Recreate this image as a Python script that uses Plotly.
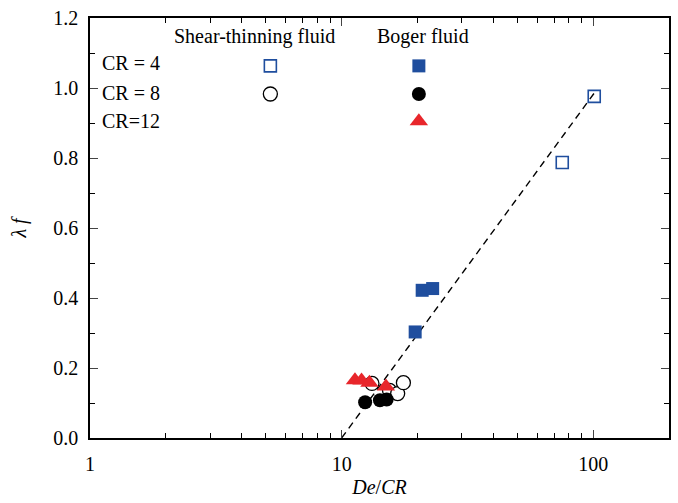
import plotly.graph_objects as go
import numpy as np

# Data
st_cr4_x = [100.9, 75.3]
st_cr4_y = [0.976, 0.787]
st_cr8_x = [13.2, 15.5, 16.7, 17.6]
st_cr8_y = [0.156, 0.136, 0.127, 0.158]
bg_cr4_x = [19.6, 20.9, 23.0]
bg_cr4_y = [0.303, 0.422, 0.427]
bg_cr8_x = [12.4, 14.2, 15.1]
bg_cr8_y = [0.102, 0.108, 0.110]
bg_cr12_x = [11.3, 12.0, 12.9, 15.0]
bg_cr12_y = [0.165, 0.164, 0.158, 0.147]
fit_x = [10, 102]
fit_y = [0.0, 0.99]

x_major = [1, 10, 100]
x_minor = [2, 3, 4, 5, 6, 7, 8, 9, 20, 30, 40, 50, 60, 70, 80, 90, 200]
y_major = [0.0, 0.2, 0.4, 0.6, 0.8, 1.0, 1.2]

BLUE = "#1f4e9e"
RED = "#e8262b"
FONT = "'Liberation Serif', 'Times New Roman', 'DejaVu Serif', serif"
FS = 20

fig = go.Figure()
fig.add_trace(go.Scatter(x=fit_x, y=fit_y, mode="lines",
                         line=dict(color="black", width=1.4, dash="7px,5px")))
fig.add_trace(go.Scatter(x=st_cr4_x, y=st_cr4_y, mode="markers",
                         marker=dict(symbol="square-open", size=12, color=BLUE, opacity=1, line=dict(width=1.6))))
fig.add_trace(go.Scatter(x=st_cr8_x, y=st_cr8_y, mode="markers",
                         marker=dict(symbol="circle", size=14, color="white", opacity=1, line=dict(color="black", width=1.3))))
fig.add_trace(go.Scatter(x=bg_cr8_x, y=bg_cr8_y, mode="markers",
                         marker=dict(symbol="circle", size=14, color="black", opacity=1, line=dict(width=0))))
fig.add_trace(go.Scatter(x=bg_cr4_x, y=bg_cr4_y, mode="markers",
                         marker=dict(symbol="square", size=13, color=BLUE, opacity=1, line=dict(width=0))))
fig.add_trace(go.Scatter(x=bg_cr12_x, y=bg_cr12_y, mode="markers",
                         marker=dict(symbol="triangle-up", size=16, color=RED, opacity=1, line=dict(width=0))))

# Legend-like key drawn on an overlay axis (0..1 space)
key_items = [
    (0.3115, 0.886, "square-open", BLUE, BLUE, 12, 1.6),
    (0.568, 0.886, "square", BLUE, BLUE, 13, 0),
    (0.3115, 0.819, "circle", "white", "black", 14, 1.3),
    (0.568, 0.819, "circle", "black", "black", 14, 0),
    (0.568, 0.754, "triangle-up", RED, RED, 16, 0),
]
for kx, ky, sym, col, lc, sz, lw in key_items:
    fig.add_trace(go.Scatter(x=[kx], y=[ky], mode="markers", xaxis="x2", yaxis="y2",
                             marker=dict(symbol=sym, size=sz, color=col, opacity=1,
                                         line=dict(color=lc, width=lw))))

ann = [
    dict(text="Shear-thinning fluid", x=0.284, y=0.955),
    dict(text="Boger fluid", x=0.575, y=0.955),
    dict(text="CR = 4", x=0.017, y=0.892, xanchor="left"),
    dict(text="CR = 8", x=0.017, y=0.821, xanchor="left"),
    dict(text="CR=12", x=0.017, y=0.755, xanchor="left"),
]
annotations = []
for a in ann:
    d = dict(xref="x2", yref="y2", showarrow=False, font=dict(family=FONT, size=FS, color="black"),
             xanchor=a.get("xanchor", "center"), yanchor="middle", x=a["x"], y=a["y"], text=a["text"])
    annotations.append(d)

fig.update_layout(
    width=678, height=503,
    margin=dict(l=90, r=7, t=14, b=65),
    paper_bgcolor="white", plot_bgcolor="white",
    showlegend=False,
    font=dict(family=FONT, size=FS, color="black"),
    annotations=annotations,
    xaxis=dict(type="log", range=[0, np.log10(200)], tickmode="array", tickvals=x_major,
               ticktext=["1", "10", "100"], ticks="inside", ticklen=8, tickwidth=1.3,
               showline=True, linecolor="black", linewidth=1.5, mirror="ticks",
               showgrid=False, zeroline=False, ticklabelstandoff=7,
               minor=dict(tickmode="array", tickvals=x_minor, ticks="inside", ticklen=5,
                          tickwidth=1.2, tickcolor="black", showgrid=False),
               title=dict(text="<i>De</i>/<i>CR</i>", font=dict(size=FS), standoff=6)),
    yaxis=dict(range=[0, 1.2], tickmode="array", tickvals=y_major,
               ticktext=[f"{v:.1f}" for v in y_major], ticks="inside", ticklen=8, tickwidth=1.3,
               showline=True, linecolor="black", linewidth=1.5, mirror="ticks",
               showgrid=False, zeroline=False, ticklabelstandoff=6,
               minor=dict(dtick=0.1, ticks="inside", ticklen=5, tickwidth=1.2,
                          tickcolor="black", showgrid=False),
               title=dict(text="<i>λ f</i>", font=dict(size=FS), standoff=21)),
    xaxis2=dict(overlaying="x", range=[0, 1], visible=False, fixedrange=True),
    yaxis2=dict(overlaying="y", range=[0, 1], visible=False, fixedrange=True),
)

fig.write_html("out.html")
